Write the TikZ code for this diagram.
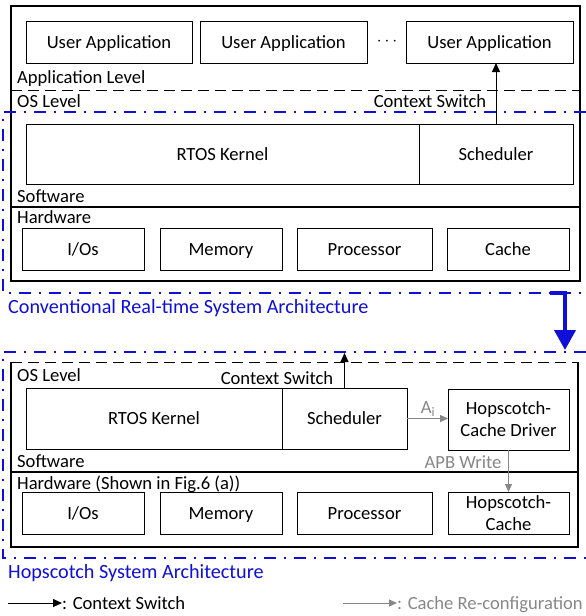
\documentclass[tikz,border=0pt]{standalone}
\usepackage{fontspec}
\setmainfont{Carlito}
\usetikzlibrary{arrows.meta}
\definecolor{myblue}{RGB}{15,15,215}
\definecolor{mygray}{RGB}{135,135,135}
\begin{document}
\begin{tikzpicture}[x=1pt,y=-1pt,
  font=\fontsize{18.6}{22}\selectfont,
  box/.style={draw, line width=0.9pt, inner sep=0pt, outer sep=0pt, align=center},
  onebox/.style={box, text height=13.5pt, text depth=1.5pt},
  lbl/.style={anchor=west, inner sep=0pt, text height=13.5pt, text depth=1.5pt},
  bigblue/.style={lbl, text=myblue, font=\fontsize{20.2}{24}\selectfont, text height=14.5pt},
  outer/.style={line width=1.3pt},
  bluebox/.style={draw=myblue, line width=1.5pt, dash pattern=on 12pt off 8pt on 2pt off 8pt},
  blackdash/.style={line width=1pt, dash pattern=on 11pt off 6pt},
  cs/.style={line width=1pt, -{Triangle[length=9pt,width=8pt]}},
  cr/.style={draw=mygray, fill=mygray, line width=1pt, -{Triangle[length=8pt,width=7pt]}},
  plain/.style={inner sep=0pt, text height=13.5pt, text depth=1.5pt},
  graytext/.style={plain, text=mygray}]
\useasboundingbox (0,0) rectangle (586,616);

% ===== Top panel =====
\draw[outer] (11,6) rectangle (580,281);
\draw[blackdash] (11,90) -- (580,90);
\draw[line width=1.2pt] (11,207) -- (580,207);
\draw[bluebox] (586,112) -- (3,112) -- (3,293) -- (586,293);

\node[onebox, minimum width=166pt, minimum height=42pt] (ua1) at (109,42) {User Application};
\node[onebox, minimum width=167pt, minimum height=42pt] (ua2) at (283.5,42) {User Application};
\node[inner sep=0pt] (dots) at (387,42) {$\cdots$};
\node[onebox, minimum width=167pt, minimum height=42pt] (ua3) at (489.5,42) {User Application};

\node[lbl] (applvl) at (17,77.5) {Application Level};
\node[lbl] (oslvl) at (17,101) {OS Level};
\node[plain] (cst) at (430,101) {Context Switch};

\node[onebox, minimum width=393pt, minimum height=60pt] (rtos) at (222.5,154) {RTOS Kernel};
\node[onebox, minimum width=154pt, minimum height=60pt] (sched) at (496,154) {Scheduler};

\node[lbl] (sw) at (17,196.5) {Software};
\node[lbl] (hw) at (17,217.5) {Hardware};

\node[onebox, minimum width=122pt, minimum height=42pt] (ios) at (83,249) {I/Os};
\node[onebox, minimum width=122pt, minimum height=42pt] (mem) at (221,249) {Memory};
\node[onebox, minimum width=135pt, minimum height=42pt] (proc) at (364.5,249) {Processor};
\node[onebox, minimum width=122pt, minimum height=42pt] (cache) at (508,249) {Cache};

\draw[cs] (sched.north) -- (sched.north |- ua3.south);

\node[bigblue] (conv) at (8,307) {Conventional Real-time System Architecture};

% ===== Transition arrow =====
\coordinate (ba) at (550,293);
\coordinate (bb) at (565,350);
\draw[draw=myblue, line width=4pt, -{Triangle[length=20pt,width=21pt]}] (ba) -| (bb);

% ===== Bottom panel =====
\draw[bluebox] (586,352) -- (3,352) -- (3,558) -- (586,558);
\draw[blackdash] (11,362) -- (578,362);
\draw[outer] (578,362) -- (578,547) -- (11,547) -- (11,362);
\draw[line width=1.2pt] (11,472) -- (578,472);

\node[lbl] (oslvl2) at (17,375) {OS Level};
\node[plain] (cst2) at (277,378) {Context Switch};

\node[onebox, minimum width=256pt, minimum height=61pt] (rtos2) at (154,418.5) {RTOS Kernel};
\node[onebox, minimum width=125pt, minimum height=61pt] (sched2) at (344.5,418.5) {Scheduler};
\node[box, minimum width=121pt, minimum height=61pt] (drv) at (508.5,419.5) {Hopscotch-\\Cache Driver};

\node[lbl] (sw2) at (17,461) {Software};
\node[lbl] (hw2) at (17,483) {Hardware (Shown in Fig.6 (a))};

\node[onebox, minimum width=122pt, minimum height=42pt] (ios2) at (83,513) {I/Os};
\node[onebox, minimum width=122pt, minimum height=42pt] (mem2) at (221,513) {Memory};
\node[onebox, minimum width=135pt, minimum height=42pt] (proc2) at (364.5,513) {Processor};
\node[box, minimum width=121pt, minimum height=42pt] (hc) at (508.5,513) {Hopscotch-\\Cache};

\coordinate (cstop) at (344.5,353);
\draw[cs] (sched2.north) -- (cstop);
\draw[cr] (sched2.east) -- (drv.west |- sched2.east);
\node[graytext] (ai) at (428,407.5) {A\textsubscript{i}};
\draw[cr] (drv.south) -- (hc.north);
\node[graytext] (apb) at (463,462) {APB Write};

\node[bigblue] (hop) at (8,571.5) {Hopscotch System Architecture};

% ===== Legend =====
\coordinate (l1a) at (8,603);
\coordinate (l1b) at (62,603);
\draw[cs] (l1a) -- (l1b);
\node[lbl] (l1t) at (l1b) {: Context Switch};
\coordinate (l2a) at (343,603);
\coordinate (l2b) at (397,603);
\draw[cr] (l2a) -- (l2b);
\node[lbl, text=mygray] (l2t) at (l2b) {: Cache Re-configuration};
\end{tikzpicture}
\end{document}
